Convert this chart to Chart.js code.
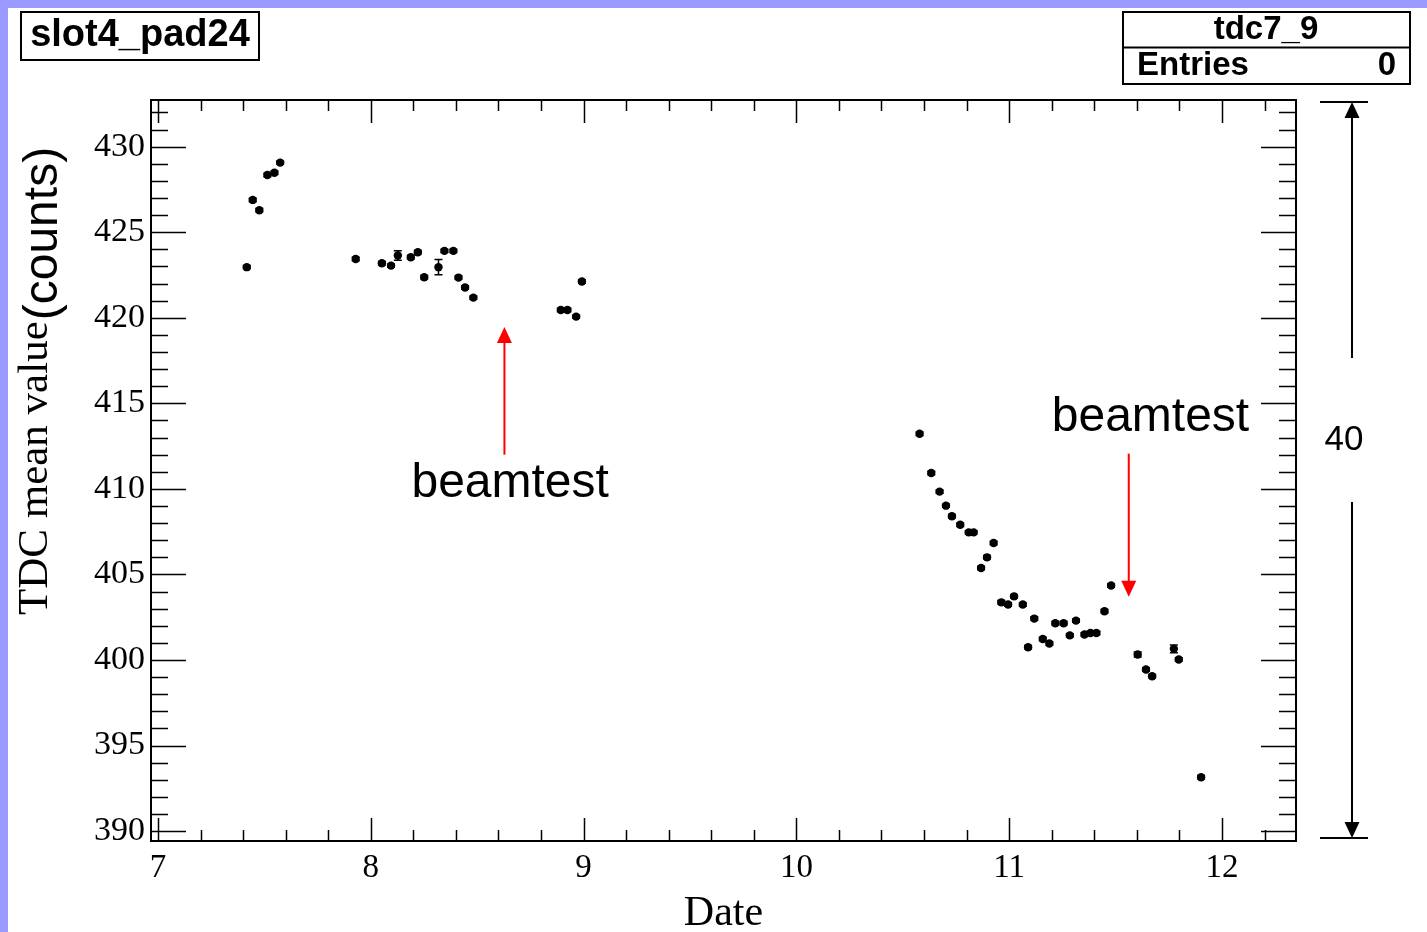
<!DOCTYPE html>
<html><head><meta charset="utf-8">
<script src="https://cdn.jsdelivr.net/npm/chart.js@4.4.0/dist/chart.umd.min.js"></script>
<style>html,body{margin:0;padding:0;background:#fff;} canvas{display:block;}</style>
</head><body>
<canvas id="c" width="1427" height="932"></canvas>
<script>
// ---- data ----
const dates = [7.417, 7.445, 7.476, 7.514, 7.547, 7.574,
  7.929, 8.052, 8.095, 8.127, 8.188, 8.221, 8.251, 8.318, 8.346, 8.388, 8.412, 8.443, 8.482,
  8.893, 8.924, 8.965, 8.992,
  10.579, 10.634, 10.673, 10.703, 10.731, 10.770, 10.810, 10.833, 10.868, 10.896, 10.927,
  10.963, 10.995, 11.023, 11.064, 11.089, 11.118, 11.158, 11.189, 11.217, 11.256, 11.285,
  11.314, 11.354, 11.382, 11.410, 11.448, 11.479, 11.604, 11.643, 11.672, 11.774, 11.797, 11.902];
const tdcMean = [422.96, 426.89, 426.29, 428.35, 428.48, 429.07,
  423.44, 423.19, 423.05, 423.64, 423.54, 423.83, 422.37, 422.96, 423.91, 423.91, 422.35, 421.77, 421.18,
  420.46, 420.46, 420.07, 422.12,
  413.22, 410.93, 409.84, 409.02, 408.40, 407.90, 407.46, 407.46, 405.38, 406.00, 406.84,
  403.37, 403.24, 403.72, 403.24, 400.74, 402.42, 401.23, 400.96, 402.15, 402.15, 401.44,
  402.30, 401.49, 401.58, 401.58, 402.85, 404.35, 400.32, 399.44, 399.05, 400.65, 400.03, 393.15];
const tdcErr = [0.1, 0.1, 0.1, 0.1, 0.1, 0.1,
  0.1, 0.1, 0.1, 0.28, 0.1, 0.1, 0.1, 0.45, 0.1, 0.1, 0.1, 0.1, 0.1,
  0.1, 0.1, 0.1, 0.1,
  0.1, 0.1, 0.1, 0.1, 0.1, 0.1, 0.1, 0.1, 0.1, 0.1, 0.1,
  0.1, 0.1, 0.1, 0.1, 0.1, 0.1, 0.1, 0.1, 0.1, 0.1, 0.1,
  0.1, 0.1, 0.1, 0.1, 0.1, 0.1, 0.15, 0.1, 0.1, 0.22, 0.1, 0.1];
const xTicks = [7, 8, 9, 10, 11, 12];
const yTicks = [390, 395, 400, 405, 410, 415, 420, 425, 430];
const xRange = [6.967, 12.348];
const yRange = [389.42, 432.73];
// annotations
const arrowX = [8.628, 11.562];
const arrowFrom = [412.0, 412.06];
const arrowTo = [419.46, 403.69];
const noteText = ['beamtest', 'beamtest'];
const noteX = [8.655, 11.664];
const noteY = [409.55, 413.36];
const histTitle = 'slot4_pad24';
const statsName = 'tdc7_9';
const statsEntries = 0;
const spanLabel = '40';

const SERIF = '"Liberation Serif", "DejaVu Serif", serif';
const SANS = '"Liberation Sans", Arial, sans-serif';

function arrowHead(ctx, x, y, dir, w, h, color) {
  ctx.fillStyle = color;
  ctx.beginPath();
  ctx.moveTo(x, y);
  ctx.lineTo(x - w / 2, y - dir * h);
  ctx.lineTo(x + w / 2, y - dir * h);
  ctx.closePath();
  ctx.fill();
}

const rootPlugin = {
  id: 'rootStyle',
  beforeDraw(chart) {
    const ctx = chart.ctx;
    ctx.save();
    ctx.fillStyle = '#9999ff';
    ctx.fillRect(0, 0, chart.width, chart.height);
    ctx.fillStyle = '#ffffff';
    ctx.fillRect(8, 8, chart.width - 8, chart.height - 8);
    ctx.restore();
  },
  beforeDatasetsDraw(chart) {
    const ctx = chart.ctx, xs = chart.scales.x, ys = chart.scales.y;
    ctx.save();
    ctx.strokeStyle = '#000';
    ctx.lineWidth = 1.5;
    dates.forEach((d, i) => {
      const px = xs.getPixelForValue(d);
      const y1 = ys.getPixelForValue(tdcMean[i] - tdcErr[i]);
      const y2 = ys.getPixelForValue(tdcMean[i] + tdcErr[i]);
      ctx.beginPath();
      ctx.moveTo(px, y1); ctx.lineTo(px, y2);
      ctx.moveTo(px - 4, y1); ctx.lineTo(px + 4, y1);
      ctx.moveTo(px - 4, y2); ctx.lineTo(px + 4, y2);
      ctx.stroke();
    });
    ctx.restore();
  },
  afterDraw(chart) {
    const ctx = chart.ctx, xs = chart.scales.x, ys = chart.scales.y;
    const a = chart.chartArea;
    ctx.save();
    // frame
    ctx.strokeStyle = '#000';
    ctx.lineWidth = 2;
    ctx.strokeRect(a.left, a.top, a.right - a.left, a.bottom - a.top);
    // x ticks (bottom and top), major 1, minor 0.2
    ctx.lineWidth = 1.5;
    ctx.beginPath();
    for (let k = 35; k <= 61; k++) {
      const v = k / 5;
      if (v < xRange[0] || v > xRange[1]) continue;
      const px = Math.round(xs.getPixelForValue(v)) + 0.5;
      const len = (k % 5 === 0) ? 23 : 11;
      ctx.moveTo(px, a.bottom); ctx.lineTo(px, a.bottom - len);
      ctx.moveTo(px, a.top); ctx.lineTo(px, a.top + len);
    }
    // y ticks (left and right), major 5, minor 1
    for (let v = 390; v <= 432; v++) {
      const py = Math.round(ys.getPixelForValue(v)) + 0.5;
      const len = (v % 5 === 0) ? 35 : 17;
      ctx.moveTo(a.left, py); ctx.lineTo(a.left + len, py);
      ctx.moveTo(a.right, py); ctx.lineTo(a.right - len, py);
    }
    ctx.stroke();

    // red arrows + labels
    ctx.strokeStyle = '#ff0000';
    ctx.lineWidth = 2;
    arrowX.forEach((x, i) => {
      const px = xs.getPixelForValue(x);
      const p1 = ys.getPixelForValue(arrowFrom[i]);
      const p2 = ys.getPixelForValue(arrowTo[i]);
      const dir = p2 > p1 ? 1 : -1;
      ctx.beginPath();
      ctx.moveTo(px, p1); ctx.lineTo(px, p2 - dir * 14);
      ctx.stroke();
      arrowHead(ctx, px, p2, dir, 15, 16, '#ff0000');
    });
    ctx.fillStyle = '#000';
    ctx.font = '48px ' + SANS;
    ctx.textAlign = 'center';
    ctx.textBaseline = 'alphabetic';
    noteText.forEach((t, i) => {
      ctx.fillText(t, xs.getPixelForValue(noteX[i]), ys.getPixelForValue(noteY[i]));
    });

    // right side span indicator
    const sx = 1352;
    const sTop = ys.getPixelForValue(yRange[1]) + 2;
    const sBot = ys.getPixelForValue(yRange[0]) - 3;
    ctx.strokeStyle = '#000';
    ctx.lineWidth = 2;
    ctx.beginPath();
    ctx.moveTo(1320, sTop); ctx.lineTo(1368, sTop);
    ctx.moveTo(1320, sBot); ctx.lineTo(1368, sBot);
    ctx.moveTo(sx, sTop + 14); ctx.lineTo(sx, 358);
    ctx.moveTo(sx, 502); ctx.lineTo(sx, sBot - 14);
    ctx.stroke();
    arrowHead(ctx, sx, sTop, -1, 15, 16, '#000');
    arrowHead(ctx, sx, sBot, 1, 15, 16, '#000');
    ctx.fillStyle = '#000';
    ctx.font = '35px ' + SANS;
    ctx.textAlign = 'center';
    ctx.textBaseline = 'middle';
    ctx.fillText(spanLabel, 1344, 440);

    // title box
    ctx.lineWidth = 2;
    ctx.fillStyle = '#fff';
    ctx.fillRect(21, 12, 238, 48);
    ctx.strokeRect(21, 12, 238, 48);
    ctx.fillStyle = '#000';
    ctx.font = 'bold 38px ' + SANS;
    ctx.textAlign = 'center';
    ctx.textBaseline = 'middle';
    ctx.fillText(histTitle, 140, 36);

    // stats box
    ctx.fillStyle = '#fff';
    ctx.fillRect(1123, 12, 287, 72);
    ctx.strokeRect(1123, 12, 287, 72);
    ctx.beginPath();
    ctx.moveTo(1123, 47.5); ctx.lineTo(1410, 47.5);
    ctx.stroke();
    ctx.fillStyle = '#000';
    ctx.font = 'bold 33px ' + SANS;
    ctx.textAlign = 'center';
    ctx.fillText(statsName, 1266, 30);
    ctx.textAlign = 'left';
    ctx.fillText('Entries', 1137, 66);
    ctx.textAlign = 'right';
    ctx.fillText(String(statsEntries), 1396, 66);

    // y axis title: serif part + sans part
    ctx.save();
    ctx.translate(47, 615);
    ctx.rotate(-Math.PI / 2);
    ctx.textAlign = 'left';
    ctx.textBaseline = 'alphabetic';
    ctx.font = '43px ' + SERIF;
    const t1 = 'TDC mean value';
    ctx.fillText(t1, 0, 0);
    const w1 = ctx.measureText(t1).width;
    ctx.font = '48px ' + SANS;
    ctx.fillText('(counts)', w1 + 1, 10);
    ctx.restore();

    ctx.restore();
  }
};

new Chart(document.getElementById('c'), {
  type: 'scatter',
  data: {
    datasets: [{
      data: dates.map((d, i) => ({ x: d, y: tdcMean[i] })),
      backgroundColor: '#000',
      borderColor: '#000',
      borderWidth: 0,
      pointRadius: 4.2,
      pointHoverRadius: 4.2,
      pointStyle: 'circle'
    }]
  },
  options: {
    responsive: false,
    animation: false,
    events: [],
    layout: { padding: { top: 100, right: 131, left: 0, bottom: 0 } },
    plugins: { legend: { display: false }, tooltip: { enabled: false } },
    scales: {
      x: {
        type: 'linear',
        min: xRange[0], max: xRange[1],
        grid: { display: false, drawTicks: false },
        border: { display: false },
        afterBuildTicks: s => { s.ticks = xTicks.map(v => ({ value: v })); },
        afterFit: s => { s.height = 91; },
        ticks: {
          font: { family: SERIF, size: 33 }, color: '#000', padding: 8,
          maxRotation: 0, autoSkip: false,
          callback: v => String(v)
        },
        title: { display: true, text: 'Date', font: { family: SERIF, size: 42, lineHeight: 0.86 }, color: '#000', padding: { top: 0, bottom: 0 } }
      },
      y: {
        type: 'linear',
        min: yRange[0], max: yRange[1],
        grid: { display: false, drawTicks: false },
        border: { display: false },
        afterBuildTicks: s => { s.ticks = yTicks.map(v => ({ value: v })); },
        afterFit: s => { s.width = 151; },
        ticks: {
          font: { family: SERIF, size: 34 }, color: '#000', padding: 6,
          autoSkip: false,
          callback: v => String(v)
        }
      }
    }
  },
  plugins: [rootPlugin]
});
</script>
</body></html>
